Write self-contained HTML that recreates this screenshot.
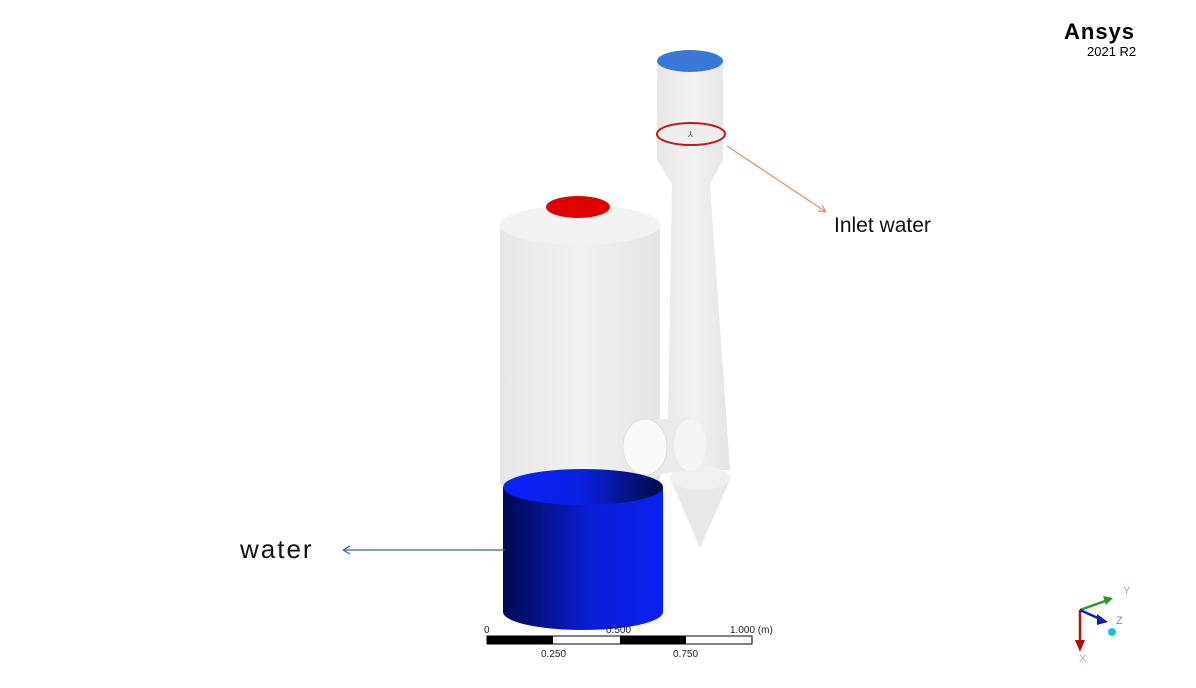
<!DOCTYPE html>
<html><head><meta charset="utf-8"><style>
html,body{margin:0;padding:0;background:#fff;}
svg{display:block;}
text{font-family:"Liberation Sans",sans-serif;}
</style></head><body>
<svg width="1196" height="688" viewBox="0 0 1196 688" xmlns="http://www.w3.org/2000/svg">
<defs>
<linearGradient id="wg" x1="0" x2="1">
<stop offset="0" stop-color="#e6e6e6"/><stop offset="0.5" stop-color="#f2f2f2"/><stop offset="1" stop-color="#e4e4e4"/>
</linearGradient>
<linearGradient id="bg" x1="0" x2="1">
<stop offset="0" stop-color="#000a50"/><stop offset="0.55" stop-color="#0a1ed8"/><stop offset="1" stop-color="#0b20f0"/>
</linearGradient>
<linearGradient id="btop" x1="0" x2="1">
<stop offset="0" stop-color="#0a22ff"/><stop offset="0.5" stop-color="#0a20e0"/><stop offset="1" stop-color="#000a40"/>
</linearGradient>
</defs>
<!-- right column -->
<path d="M657,61 L657,160 L672,184 L667,470 L730,470 L710,184 L723,160 L723,61 Z" fill="url(#wg)"/>
<path d="M670,478 L700,548 L730,480 Z" fill="#e8e8e8"/>
<ellipse cx="700" cy="478" rx="30" ry="12" fill="#f0f0f0"/>
<ellipse cx="690" cy="61" rx="33" ry="11" fill="#3a78d8"/>
<ellipse cx="691" cy="134" rx="34" ry="11" fill="#eee" stroke="#c8141e" stroke-width="2"/>
<text x="688" y="137" font-size="8" fill="#444">⅄</text>
<!-- main vessel -->
<rect x="500" y="225" width="160" height="260" fill="url(#wg)"/>
<ellipse cx="580" cy="225" rx="80" ry="20" fill="#f2f2f2"/>
<ellipse cx="578" cy="207" rx="32" ry="11" fill="#e00000"/>
<!-- side pipe -->
<path d="M645,420 L690,418 Q710,440 690,470 L655,475 Z" fill="#eaeaea"/>
<ellipse cx="645" cy="447" rx="22" ry="28" fill="#fafafa" stroke="#ddd"/>
<ellipse cx="690" cy="445" rx="16" ry="26" fill="#f5f5f5"/>
<!-- blue tank -->
<path d="M503,487 L503,612 A80,18 0 0 0 663,612 L663,487 Z" fill="url(#bg)"/>
<ellipse cx="583" cy="487" rx="80" ry="18" fill="url(#btop)"/>
<!-- callouts -->
<line x1="727" y1="146" x2="826" y2="212" stroke="#e0906a" stroke-width="1.2"/>
<path d="M826,212 l-8,-1 m8,1 l-4,-7" stroke="#e0906a" fill="none" stroke-width="1.2"/>
<text x="834" y="232" font-size="21" fill="#111">Inlet water</text>
<line x1="343" y1="550" x2="505" y2="550" stroke="#3a5ea8" stroke-width="1.2"/>
<path d="M343,550 l7,-4 m-7,4 l7,4" stroke="#3a5ea8" fill="none" stroke-width="1.2"/>
<text x="240" y="558" font-size="26" letter-spacing="2" fill="#111">water</text>
<!-- scale bar -->
<rect x="487" y="636" width="265" height="8" fill="#fff" stroke="#000" stroke-width="1"/>
<rect x="487" y="636" width="66" height="8" fill="#000"/>
<rect x="620" y="636" width="66" height="8" fill="#000"/>
<g font-size="10" fill="#222">
<text x="484" y="633">0</text><text x="606" y="633">0.500</text><text x="730" y="633">1.000  (m)</text>
<text x="541" y="657">0.250</text><text x="673" y="657">0.750</text>
</g>
<!-- logo -->
<text x="1064" y="39" font-size="22" font-weight="bold" letter-spacing="1" fill="#000">Ansys</text>
<text x="1087" y="56" font-size="13" fill="#000">2021 R2</text>
<!-- triad -->
<line x1="1080" y1="610" x2="1080" y2="645" stroke="#b01010" stroke-width="2.5"/>
<path d="M1075,640 L1085,640 L1080,652 Z" fill="#b01010"/>
<line x1="1080" y1="610" x2="1108" y2="600" stroke="#2a9a2a" stroke-width="2.5"/>
<path d="M1103,596 L1113,598 L1106,605 Z" fill="#2a9a2a"/>
<line x1="1080" y1="610" x2="1100" y2="619" stroke="#1020a0" stroke-width="2.5"/>
<path d="M1097,614 L1108,622 L1097,625 Z" fill="#1020a0"/>
<circle cx="1112" cy="632" r="4" fill="#20c0d0"/>
<g font-size="11">
<text x="1123" y="594" fill="#8b8">Y</text><text x="1116" y="624" fill="#889">Z</text><text x="1079" y="662" fill="#d99">X</text>
</g>
</svg>
</body></html>
